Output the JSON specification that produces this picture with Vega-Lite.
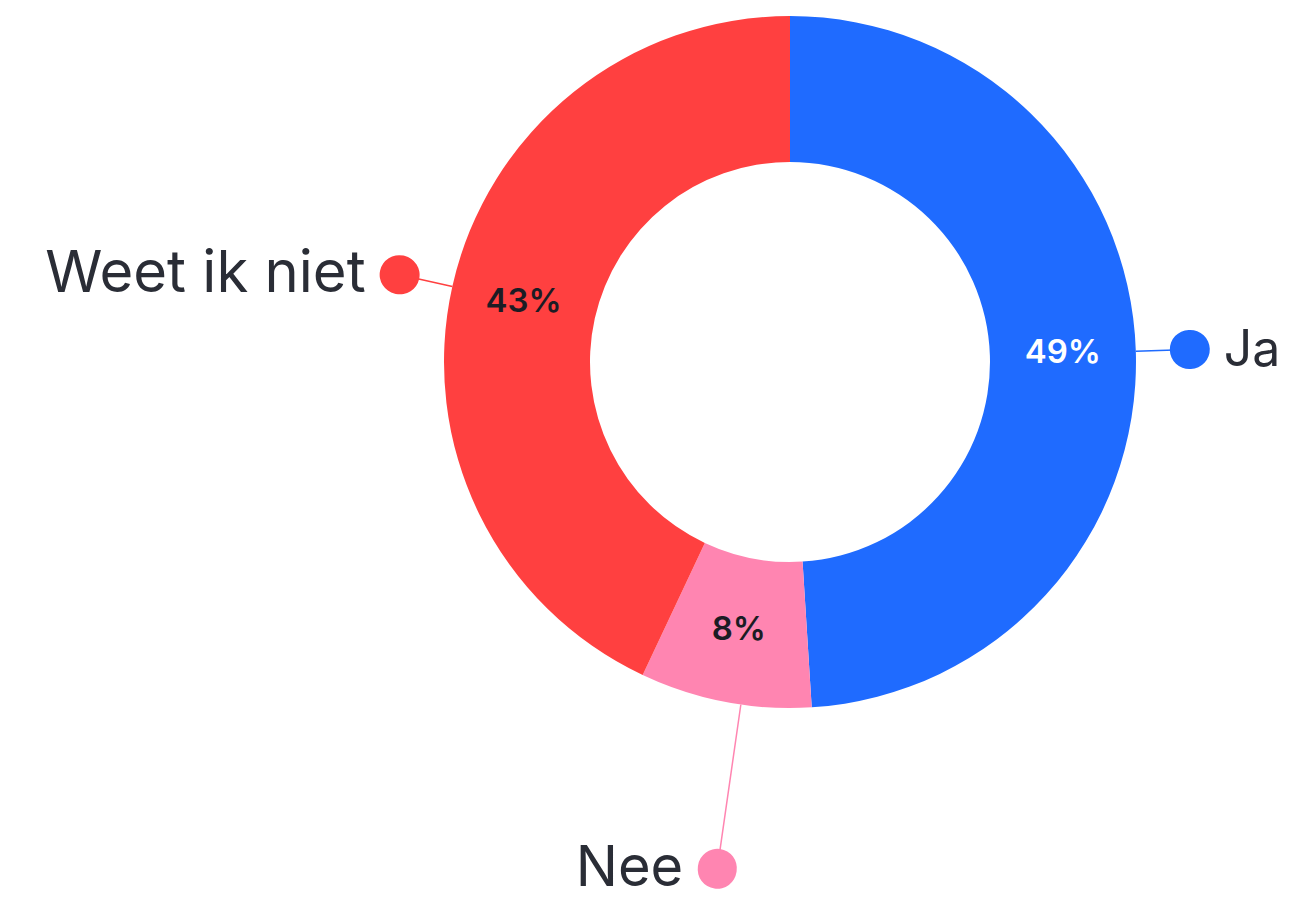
{
  "$schema": "https://vega.github.io/schema/vega-lite/v6.json",
  "width": 700,
  "height": 700,
  "autosize": "none",
  "padding": {"left": 440, "top": 12, "right": 151, "bottom": 190},
  "background": "white",
  "config": {"view": {"stroke": null}, "font": "Inter"},
  "data": {
    "values": [
      {"cat": "Ja", "pct": 49, "label": "49%"},
      {"cat": "Nee", "pct": 8, "label": "8%"},
      {"cat": "Weet ik niet", "pct": 43, "label": "43%"}
    ]
  },
  "resolve": {"scale": {"theta": "independent"}},
  "encoding": {
    "theta": {"field": "pct", "type": "quantitative", "stack": true},
    "order": {"field": "cat", "type": "ordinal"}
  },
  "layer": [
    {
      "mark": {"type": "arc", "innerRadius": 200, "outerRadius": 346},
      "encoding": {
        "color": {"field": "cat", "type": "nominal", "legend": null,
          "scale": {"domain": ["Ja", "Nee", "Weet ik niet"], "range": ["#1f6bff", "#ff85b1", "#ff4040"]}}
      }
    },
    {
      "mark": {"type": "arc", "filled": false, "innerRadius": 346, "outerRadius": 400, "padAngle": 3, "strokeWidth": 1.5},
      "encoding": {
        "color": {"field": "cat", "type": "nominal", "legend": null},
        "opacity": {"condition": {"test": "datum.cat === 'Nee'", "value": 0}, "value": 1}
      }
    },
    {
      "mark": {"type": "arc", "filled": false, "innerRadius": 346, "outerRadius": 512, "padAngle": 3, "strokeWidth": 1.5},
      "encoding": {
        "theta": {"field": "pct", "type": "quantitative", "stack": true, "scale": {"domain": [0, 101.4]}},
        "color": {"field": "cat", "type": "nominal", "legend": null},
        "opacity": {"condition": {"test": "datum.cat === 'Nee'", "value": 1}, "value": 0}
      }
    },
    {
      "mark": {"type": "arc", "filled": false, "innerRadius": 399.5, "outerRadius": 400.5, "padAngle": 3, "strokeWidth": 39, "strokeJoin": "round", "strokeCap": "round"},
      "encoding": {
        "color": {"field": "cat", "type": "nominal", "legend": null},
        "opacity": {"condition": {"test": "datum.cat === 'Nee'", "value": 0}, "value": 1}
      }
    },
    {
      "mark": {"type": "arc", "filled": false, "innerRadius": 511.5, "outerRadius": 512.5, "padAngle": 3, "strokeWidth": 39, "strokeJoin": "round", "strokeCap": "round"},
      "encoding": {
        "theta": {"field": "pct", "type": "quantitative", "stack": true, "scale": {"domain": [0, 101.4]}},
        "color": {"field": "cat", "type": "nominal", "legend": null},
        "opacity": {"condition": {"test": "datum.cat === 'Nee'", "value": 1}, "value": 0}
      }
    },
    {
      "mark": {"type": "text", "radius": 273, "fontSize": 33, "fontWeight": 600, "align": "center", "baseline": "middle"},
      "encoding": {
        "detail": {"field": "cat", "type": "nominal"},
        "text": {"field": "label"},
        "color": {"condition": {"test": "datum.cat === 'Ja'", "value": "#ffffff"}, "value": "#1c1c24"}
      }
    },
    {
      "mark": {"type": "text", "radius": 400, "fontSize": 50, "align": "left", "baseline": "middle", "dx": 34, "dy": 2, "color": "#2a2d36"},
      "encoding": {
        "detail": {"field": "cat", "type": "nominal"},
        "text": {"condition": {"test": "datum.cat === 'Ja'", "field": "cat"}, "value": ""}
      }
    },
    {
      "mark": {"type": "text", "radius": 400, "fontSize": 58, "align": "right", "baseline": "middle", "dx": -34, "color": "#2a2d36"},
      "encoding": {
        "detail": {"field": "cat", "type": "nominal"},
        "text": {"condition": {"test": "datum.cat === 'Weet ik niet'", "field": "cat"}, "value": ""}
      }
    },
    {
      "mark": {"type": "text", "radius": 512, "fontSize": 56, "align": "right", "baseline": "middle", "dx": -34, "color": "#2a2d36"},
      "encoding": {
        "theta": {"field": "pct", "type": "quantitative", "stack": true, "scale": {"domain": [0, 101.4]}},
        "detail": {"field": "cat", "type": "nominal"},
        "text": {"condition": {"test": "datum.cat === 'Nee'", "field": "cat"}, "value": ""}
      }
    }
  ]
}
